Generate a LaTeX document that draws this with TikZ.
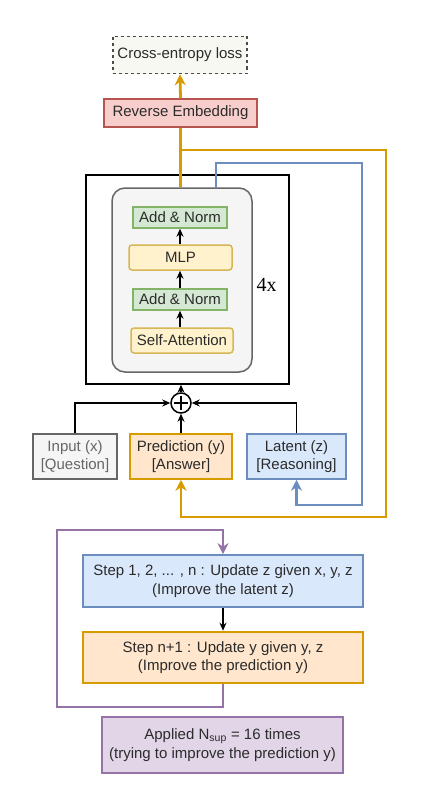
\documentclass[tikz,border=0pt]{standalone}
\usepackage{fontspec}
\setmainfont{Liberation Sans}
\newfontfamily\serifx{Liberation Serif}
\usetikzlibrary{arrows.meta,positioning,calc}
\definecolor{cOrange}{HTML}{D79B00}
\definecolor{cOrangeFill}{HTML}{FFE6CC}
\definecolor{cBlue}{HTML}{6C8EBF}
\definecolor{cBlueFill}{HTML}{DAE8FC}
\definecolor{cGreen}{HTML}{82B366}
\definecolor{cGreenFill}{HTML}{D5E8D4}
\definecolor{cYellow}{HTML}{D6B656}
\definecolor{cYellowFill}{HTML}{FFF2CC}
\definecolor{cRed}{HTML}{B85450}
\definecolor{cRedFill}{HTML}{F8CECC}
\definecolor{cPurple}{HTML}{9673A6}
\definecolor{cPurpleFill}{HTML}{E1D5E7}
\definecolor{cGray}{HTML}{666666}
\definecolor{cGrayFill}{HTML}{F5F5F5}
\definecolor{cLoss}{HTML}{F8F8F2}
\definecolor{cText}{HTML}{2B2B2B}
\begin{document}
\begin{tikzpicture}[x=1pt,y=-1pt,
  box/.style={draw, line width=1.5pt, inner sep=0pt, align=center, text=cText,
    font=\fontsize{15}{18.5}\selectfont},
  greenbox/.style={box, draw=cGreen, fill=cGreenFill, minimum width=94pt, minimum height=21pt},
  yellowbox/.style={box, draw=cYellow, fill=cYellowFill, rounded corners=3pt, minimum height=25pt},
  blk/.style={-{Stealth[length=8pt,width=7pt]}, line width=1.6pt, black},
  col/.style={-{Stealth[length=11pt,width=11pt]}, line width=2.8pt},
]
\useasboundingbox (0,0) rectangle (433,800);
\fill[white] (0,0) rectangle (433,800);

% top
\node[box, dashed, draw=black!70, fill=cLoss, minimum width=134pt, minimum height=37pt] (ce) at (180,55) {Cross-entropy loss};
\node[box, draw=cRed, fill=cRedFill, minimum width=153pt, minimum height=28pt] (rev) at (180.5,113) {Reverse Embedding};

% transformer
\node[draw=black, line width=1.5pt, fill=white, minimum width=203pt, minimum height=209pt, inner sep=0pt] (outer) at (187.5,279.5) {};
\node[draw=cGray, line width=1.5pt, fill=cGrayFill, rounded corners=13pt, minimum width=140pt, minimum height=184pt, inner sep=0pt] (inner) at (182,280) {};
\node[greenbox] (an1) at (180,217.5) {Add \& Norm};
\node[yellowbox, minimum width=103pt] (mlp) at (180.5,257.5) {MLP};
\node[greenbox] (an2) at (180,299.5) {Add \& Norm};
\node[yellowbox, minimum width=102pt] (sa) at (182,340.5) {Self-Attention};
\node[font=\serifx\fontsize{20}{22}\selectfont, inner sep=0pt] (rep) at (266.5,285) {4x};

\draw[blk] (sa.north -| an2.south) -- (an2.south);
\draw[blk] (an2.north) -- (an2.north |- mlp.south);
\draw[blk] (an1.south |- mlp.north) -- (an1.south);

% inputs
\node[draw=black, line width=1.5pt, circle, minimum size=20pt, inner sep=0pt, fill=white] (plus) at (181,403) {};
\draw[line width=1.5pt] ($(plus.center)+(-7,0)$) -- ($(plus.center)+(7,0)$);
\draw[line width=1.5pt] ($(plus.center)+(0,-7)$) -- ($(plus.center)+(0,7)$);

\node[box, draw=cGray, fill=cGrayFill, text=cGray, minimum width=84pt, minimum height=45pt] (inp) at (75,456.5) {Input (x)\\{}[Question]};
\node[box, draw=cOrange, fill=cOrangeFill, minimum width=102pt, minimum height=45pt] (pred) at (181,456.5) {Prediction (y)\\{}[Answer]};
\node[box, draw=cBlue, fill=cBlueFill, minimum width=99pt, minimum height=45pt] (lat) at (296.5,456.5) {Latent (z)\\{}[Reasoning]};

\draw[blk] (plus.north) -- (plus.north |- outer.south);
\draw[blk] (inp.north) |- (plus.west);
\draw[blk] (lat.north) |- (plus.east);
\draw[blk] (pred.north) -- (plus.south);

% orange path
\coordinate (oj) at (180,150);
\coordinate (o2) at (386,517);
\draw[cOrange, line width=2.8pt] (rev.south |- inner.north) -- (rev.south);
\draw[col, draw=cOrange] (rev.north) -- (ce.south);
\draw[col, draw=cOrange] (oj) -| (o2) -| (pred.south);

% blue path
\coordinate (b0) at (216,188);
\coordinate (b1) at (362,163);
\coordinate (b2) at (362,505);
\draw[col, draw=cBlue] (b0) |- (b1) -- (b2) -| (lat.south);

% lower part
\node[box, draw=cBlue, fill=cBlueFill, line width=1.8pt, minimum width=280pt, minimum height=52pt] (s1) at (223,581) {Step 1, 2, ... , n : Update z given x, y, z\\(Improve the latent z)};
\node[box, draw=cOrange, fill=cOrangeFill, line width=2.6pt, minimum width=280pt, minimum height=51pt] (s2) at (223,657.5) {Step n+1 : Update y given y, z\\(Improve the prediction y)};
\node[box, draw=cPurple, fill=cPurpleFill, line width=1.8pt, minimum width=241pt, minimum height=56pt] (app) at (222.5,745) {Applied N\textsubscript{sup} = 16 times\\(trying to improve the prediction y)};

\draw[blk] (s1.south) -- (s2.north);
\coordinate (p1) at (57,707);
\coordinate (p2) at (57,530);
\draw[col, draw=cPurple, line width=2.6pt] (s2.south) |- (p1) -- (p2) -| (s1.north);
\end{tikzpicture}
\end{document}
